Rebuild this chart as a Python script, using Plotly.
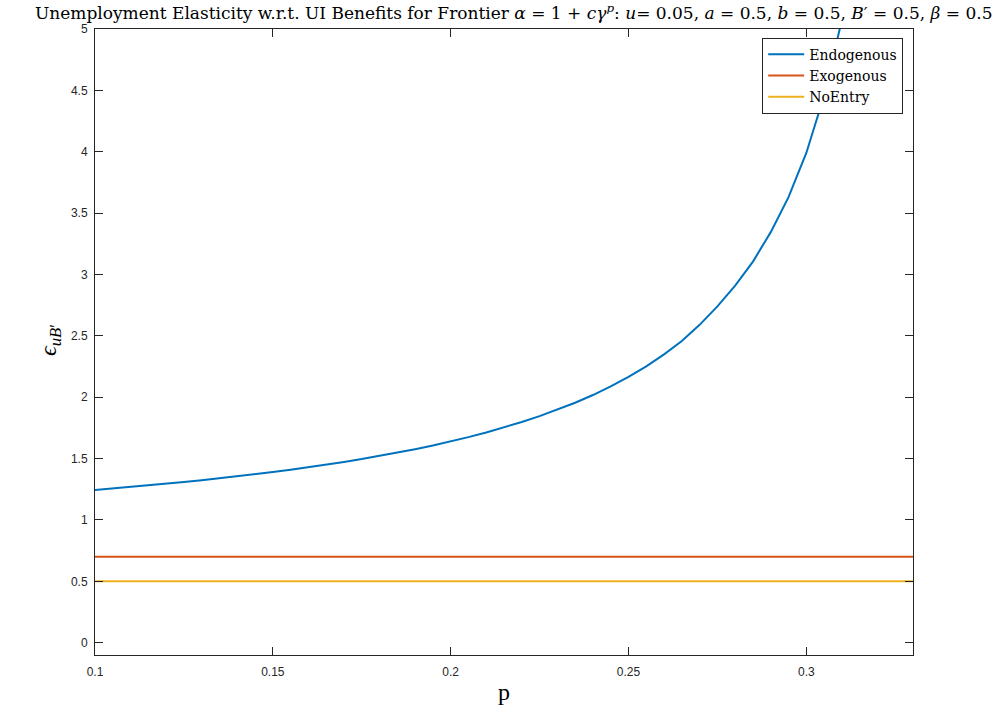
import plotly.graph_objects as go

# Search-cost parameter p on the horizontal axis
p_vals = [0.100, 0.105, 0.110, 0.115, 0.120, 0.125, 0.130, 0.135, 0.140, 0.145,
          0.150, 0.155, 0.160, 0.165, 0.170, 0.175, 0.180, 0.185, 0.190, 0.195,
          0.200, 0.205, 0.210, 0.215, 0.220, 0.225, 0.230, 0.235, 0.240, 0.245,
          0.250, 0.255, 0.260, 0.265, 0.270, 0.275, 0.280, 0.285, 0.290, 0.295,
          0.300, 0.305, 0.310]

# Elasticity of unemployment w.r.t. UI benefits, endogenous entry
endogenous = [1.245, 1.257, 1.269, 1.282, 1.295, 1.309, 1.324, 1.340, 1.356, 1.373,
              1.391, 1.410, 1.429, 1.451, 1.473, 1.496, 1.522, 1.548, 1.577, 1.607,
              1.640, 1.675, 1.713, 1.754, 1.798, 1.846, 1.898, 1.955, 2.018, 2.088,
              2.165, 2.251, 2.349, 2.458, 2.590, 2.740, 2.910, 3.105, 3.345, 3.630,
              3.990, 4.456, 5.075]

# Flat benchmarks, drawn across the whole p range
flat_p = [0.10, 0.33]
exogenous = [0.7, 0.7]
noentry = [0.5, 0.5]

x_ticks = [0.1, 0.15, 0.2, 0.25, 0.3]
y_ticks = [0, 0.5, 1, 1.5, 2, 2.5, 3, 3.5, 4, 4.5, 5]

blue = "#0072BD"
orange = "#D95319"
yellow = "#EDB120"
axis_col = "#262626"
serif = "DejaVu Serif, Liberation Serif, serif"
serif2 = "Liberation Serif, DejaVu Serif, serif"
sans = "Liberation Sans, Arial, sans-serif"

fig = go.Figure()
fig.add_trace(go.Scatter(x=p_vals, y=endogenous, mode="lines", name="Endogenous",
                         line=dict(color=blue, width=2)))
fig.add_trace(go.Scatter(x=flat_p, y=exogenous, mode="lines",
                         name="Exogenous", line=dict(color=orange, width=2)))
fig.add_trace(go.Scatter(x=flat_p, y=noentry, mode="lines",
                         name="NoEntry", line=dict(color=yellow, width=2)))

axis_common = dict(showline=True, linecolor=axis_col, linewidth=1, mirror="ticks",
                   ticks="inside", ticklen=8, tickcolor=axis_col, tickwidth=1,
                   showgrid=False, zeroline=False,
                   tickfont=dict(family=sans, size=12, color=axis_col))

fig.update_xaxes(range=[0.1, 0.33], tickvals=x_ticks, ticklabelstandoff=6,
                 ticktext=[f"{v:g}" for v in x_ticks], **axis_common)
fig.update_yaxes(range=[-0.1, 5], tickvals=y_ticks, ticklabelstandoff=4,
                 ticktext=[f"{v:g}" for v in y_ticks], **axis_common)

title_txt = ("Unemployment Elasticity w.r.t. UI Benefits for Frontier "
             "<i>α</i> = 1 + <i>cγ</i><sup><i>p</i></sup>: <i>u</i>= 0.05, "
             "<i>a</i> = 0.5, <i>b</i> = 0.5, <i>B</i>′ = 0.5, <i>β</i> = 0.5")

fig.update_layout(
    width=1003, height=709,
    margin=dict(l=95, r=90, t=29, b=54),
    paper_bgcolor="white", plot_bgcolor="white",
    showlegend=True,
    legend=dict(x=0.988, y=0.986, xanchor="right", yanchor="top",
                bgcolor="white", bordercolor=axis_col, borderwidth=1,
                font=dict(family=serif, size=14, color="black"),
                tracegroupgap=0, itemwidth=36),
    annotations=[
        dict(text=title_txt, xref="paper", yref="paper", x=0.5, y=1,
             xanchor="center", yanchor="bottom", xshift=9, yshift=4,
             showarrow=False,
             font=dict(family=serif, size=17, color="black")),
        dict(text="<i>ϵ</i><sub><i>uB</i>′</sub>", xref="paper", yref="paper",
             x=0, y=0.5, xshift=-28, yshift=2, textangle=-90, showarrow=False,
             xanchor="right", yanchor="middle",
             font=dict(family=serif2, size=24, color="black")),
        dict(text="p", xref="paper", yref="paper", x=0.5, y=0, yshift=-22,
             xanchor="center", yanchor="top", showarrow=False,
             font=dict(family=serif2, size=24, color="black")),
    ],
)

fig.write_html("out.html")
